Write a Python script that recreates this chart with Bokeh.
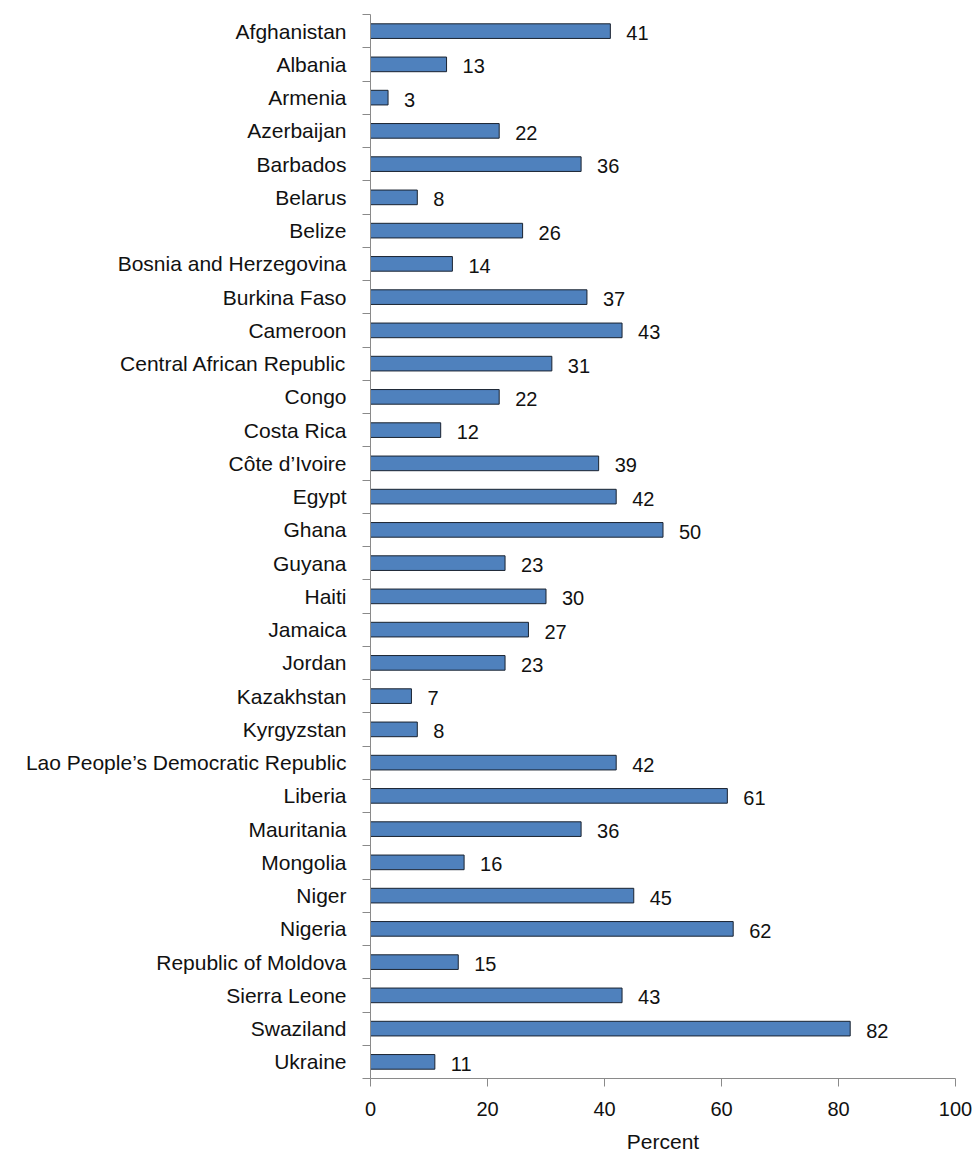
from bokeh.plotting import figure
from bokeh.models import ColumnDataSource, Range1d, FixedTicker
from bokeh.core.properties import value
from bokeh.embed import file_html
from bokeh.resources import INLINE

countries = ["Afghanistan", "Albania", "Armenia", "Azerbaijan", "Barbados", "Belarus", "Belize",
             "Bosnia and Herzegovina", "Burkina Faso", "Cameroon", "Central African Republic", "Congo",
             "Costa Rica", "Côte d\u2019Ivoire", "Egypt", "Ghana", "Guyana", "Haiti", "Jamaica", "Jordan",
             "Kazakhstan", "Kyrgyzstan", "Lao People\u2019s Democratic Republic", "Liberia", "Mauritania",
             "Mongolia", "Niger", "Nigeria", "Republic of Moldova", "Sierra Leone", "Swaziland", "Ukraine"]
percents = [41, 13, 3, 22, 36, 8, 26, 14, 37, 43, 31, 22, 12, 39, 42, 50, 23, 30, 27, 23, 7, 8,
            42, 61, 36, 16, 45, 62, 15, 43, 82, 11]
x_ticks = [0, 20, 40, 60, 80, 100]

FONT = "Liberation Sans"
n = len(countries)
idx = list(range(n))

src = ColumnDataSource(dict(y=idx, v=percents, lbl=[str(v) for v in percents]))

p = figure(width=975, height=1157, output_backend="svg", toolbar_location=None,
           x_range=Range1d(0, 100), y_range=Range1d(n - 0.5, -0.5),
           min_border_left=370, min_border_right=20, min_border_top=14, min_border_bottom=79)

p.hbar(y="y", left=0, right="v", height=0.44, source=src,
       fill_color="#4F81BD", line_color="#1a2330", line_width=1)

p.text(x="v", y="y", text="lbl", source=src, x_offset=16, y_offset=2,
       text_align="left", text_baseline="middle",
       text_font=value(FONT), text_font_size="20px", text_color="#111111")

p.xgrid.visible = False
p.ygrid.visible = False
p.outline_line_color = None

xa = p.xaxis[0]
xa.ticker = FixedTicker(ticks=x_ticks)
xa.major_tick_out = 8
xa.major_tick_in = 0
xa.minor_tick_out = 0
xa.minor_tick_in = 0
xa.axis_line_color = "#8a8a8a"
xa.major_tick_line_color = "#8a8a8a"
xa.major_label_text_font = FONT
xa.major_label_text_font_size = "20px"
xa.major_label_text_color = "#111111"
xa.major_label_standoff = 15
xa.axis_label = "Percent"
xa.axis_label_text_font = FONT
xa.axis_label_text_font_size = "21px"
xa.axis_label_text_font_style = "normal"
xa.axis_label_text_color = "#111111"
xa.axis_label_standoff = 11

ya = p.yaxis[0]
ya.ticker = FixedTicker(ticks=idx, minor_ticks=[i - 0.5 for i in range(n + 1)])
ya.major_label_overrides = {i: c for i, c in enumerate(countries)}
ya.major_tick_out = 0
ya.major_tick_in = 0
ya.minor_tick_out = 8
ya.minor_tick_in = 0
ya.minor_tick_line_color = "#8a8a8a"
ya.axis_line_color = "#8a8a8a"
ya.major_label_text_font = FONT
ya.major_label_text_font_size = "21px"
ya.major_label_text_color = "#111111"
ya.major_label_standoff = 16

open("out.html", "w").write(file_html(p, INLINE))
